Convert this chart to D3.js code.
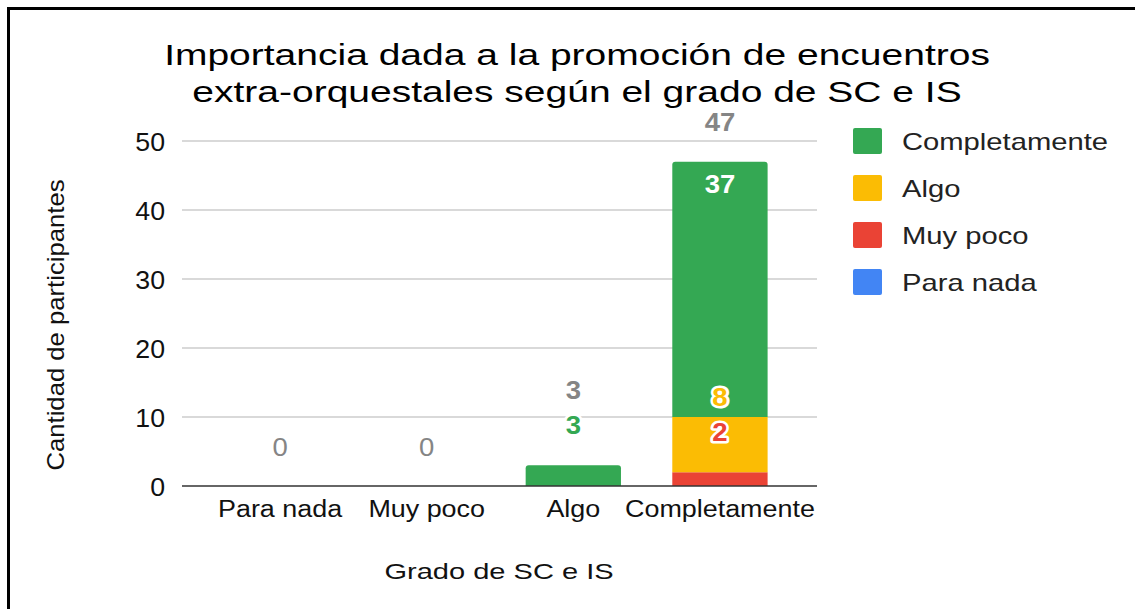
<!DOCTYPE html>
<html><head><meta charset="utf-8">
<script src="https://cdn.jsdelivr.net/npm/d3@7"></script>
<style>body{margin:0;background:#fff}svg{display:block;font-family:"Liberation Sans",Arial,sans-serif}</style>
</head><body><svg id="c" width="1135" height="609"></svg>
<script>
const categories = ["Para nada", "Muy poco", "Algo", "Completamente"];
const seriesNames = ["Para nada", "Muy poco", "Algo", "Completamente"];
const seriesColors = ["#4285F4", "#EA4335", "#FBBC04", "#34A853"];
const valParaNada = [0, 0, 0, 0];
const valMuyPoco = [0, 0, 0, 2];
const valAlgo = [0, 0, 0, 8];
const valCompletamente = [0, 0, 3, 37];
const yTicks = [0, 10, 20, 30, 40, 50];
const titleLines = ["Importancia dada a la promoción de encuentros", "extra-orquestales según el grado de SC e IS"];

const svg = d3.select("#c");
const x = d3.scaleBand().domain(categories).range([206, 794]).paddingInner(0.35).paddingOuter(0.18);
const y = d3.scaleLinear().domain([0, 50]).range([486, 141]);

// horizontally stretch text elements (the reference font renders wider)
function stretch(sel, sx) {
  sel.each(function() {
    const t = d3.select(this);
    const tx = +t.attr("x") || 0, ty = +t.attr("y") || 0;
    t.attr("x", 0).attr("y", 0).attr("transform", `translate(${tx},${ty}) scale(${sx},1)`);
  });
}

// border
svg.append("line").attr("x1",8.5).attr("x2",8.5).attr("y1",8).attr("y2",609).attr("stroke","#000").attr("stroke-width",3);
svg.append("line").attr("x1",7).attr("x2",1135).attr("y1",8.5).attr("y2",8.5).attr("stroke","#000").attr("stroke-width",3);

// title
const title = svg.append("g").selectAll("text").data(titleLines).join("text")
  .attr("x", 577).attr("y", (d,i)=>65+i*37).attr("text-anchor","middle")
  .attr("font-size", 30).attr("fill","#000").text(d=>d);
stretch(title, 1.3);

// grid
const gx0 = 182, gx1 = 817;
svg.append("g").selectAll("line").data(yTicks.filter(t=>t>0)).join("line")
  .attr("x1",gx0).attr("x2",gx1).attr("y1",d=>y(d)).attr("y2",d=>y(d))
  .attr("stroke","#cccccc").attr("stroke-width",1.5);
const yAxis = svg.append("g").attr("transform",`translate(${gx0},0)`)
  .call(d3.axisLeft(y).tickValues(yTicks).tickSize(0).tickPadding(17));
yAxis.select(".domain").remove();
yAxis.selectAll("text").attr("font-size",25).attr("fill","#111").attr("font-family","Liberation Sans, Arial, sans-serif").attr("dy",null).attr("y",9);
stretch(yAxis.selectAll("text"), 1.07);

// stacked data
const rows = categories.map((c,i)=>({cat:c, "Para nada":valParaNada[i], "Muy poco":valMuyPoco[i], "Algo":valAlgo[i], "Completamente":valCompletamente[i]}));
const stack = d3.stack().keys(seriesNames)(rows);
stack.forEach((s,si)=>{
  svg.append("g").selectAll("path").data(s.filter(d=>d[1]-d[0]>0)).join("path")
    .attr("fill", seriesColors[si])
    .attr("d", d=>{
      const x0 = x(d.data.cat), w = x.bandwidth();
      const yt = y(d[1]), yb = y(d[0]);
      const isTop = Math.abs(d[1] - seriesNames.reduce((a,k)=>a+d.data[k],0))<1e-9;
      const r = isTop ? 3 : 0;
      return `M${x0},${yb} L${x0},${yt+r} Q${x0},${yt} ${x0+r},${yt} L${x0+w-r},${yt} Q${x0+w},${yt} ${x0+w},${yt+r} L${x0+w},${yb} Z`;
    });
});

// baseline
svg.append("line").attr("x1",gx0).attr("x2",gx1).attr("y1",y(0)).attr("y2",y(0)).attr("stroke","#333").attr("stroke-width",1.5);

// x axis labels
const xAxis = svg.append("g").attr("transform",`translate(0,${y(0)})`)
  .call(d3.axisBottom(x).tickSize(0));
xAxis.select(".domain").remove();
xAxis.selectAll("text").attr("font-size",23).attr("fill","#111").attr("font-family","Liberation Sans, Arial, sans-serif").attr("dy",null).attr("y",31);
stretch(xAxis.selectAll("text"), 1.17);

// data labels
const labels = svg.append("g").attr("font-weight","bold").attr("font-size",25).attr("text-anchor","middle");
categories.forEach((c,ci)=>{
  const cx = x(c) + x.bandwidth()/2;
  let prev = null;
  stack.forEach((s,si)=>{
    const d = s[ci]; const v = d[1]-d[0];
    if (v <= 0) return;
    const top = y(d[1]), h = y(d[0]) - y(d[1]);
    let cy, fill, halo;
    if (h > 80) { cy = top + 22; fill = "#fff"; halo = false; }
    else {
      cy = prev === null ? top - 40 : prev - 35;
      prev = cy; fill = seriesColors[si]; halo = true;
    }
    const t = labels.append("text").attr("x",cx).attr("y",cy + 9).attr("fill",fill).text(v);
    if (halo) t.attr("stroke","#fff").attr("stroke-width",5).attr("paint-order","stroke").attr("stroke-linejoin","round");
    stretch(t, 1.1);
  });
  const total = seriesNames.reduce((a,k)=>a+rows[ci][k],0);
  const barTop = y(total);
  const ty = prev === null ? barTop - 39.5 : Math.min(barTop - 39.5, prev - 35);
  const tt = labels.append("text").attr("x",cx).attr("y",ty + 9).attr("fill","#858585").text(total);
  if (total === 0) tt.attr("font-weight","normal");
  stretch(tt, 1.1);
});

// axis titles
svg.append("text").attr("transform","translate(64,325) rotate(-90) scale(1.07,1)").attr("text-anchor","middle")
  .attr("font-size",24).attr("fill","#111").text("Cantidad de participantes");
const xt = svg.append("text").attr("x",499).attr("y",579).attr("text-anchor","middle")
  .attr("font-size",22).attr("fill","#111").text("Grado de SC e IS");
stretch(xt, 1.32);

// legend
const legendOrder = [3,2,1,0];
const lg = svg.append("g").selectAll("g").data(legendOrder).join("g")
  .attr("transform",(d,i)=>`translate(853,${141+i*47})`);
lg.append("rect").attr("x",0).attr("y",-13).attr("width",29).attr("height",26).attr("rx",2).attr("fill",d=>seriesColors[d]);
const lt = lg.append("text").attr("x",49).attr("y",8.5).attr("font-size",23).attr("fill","#222").text(d=>seriesNames[d]);
stretch(lt, 1.27);
</script></body></html>
